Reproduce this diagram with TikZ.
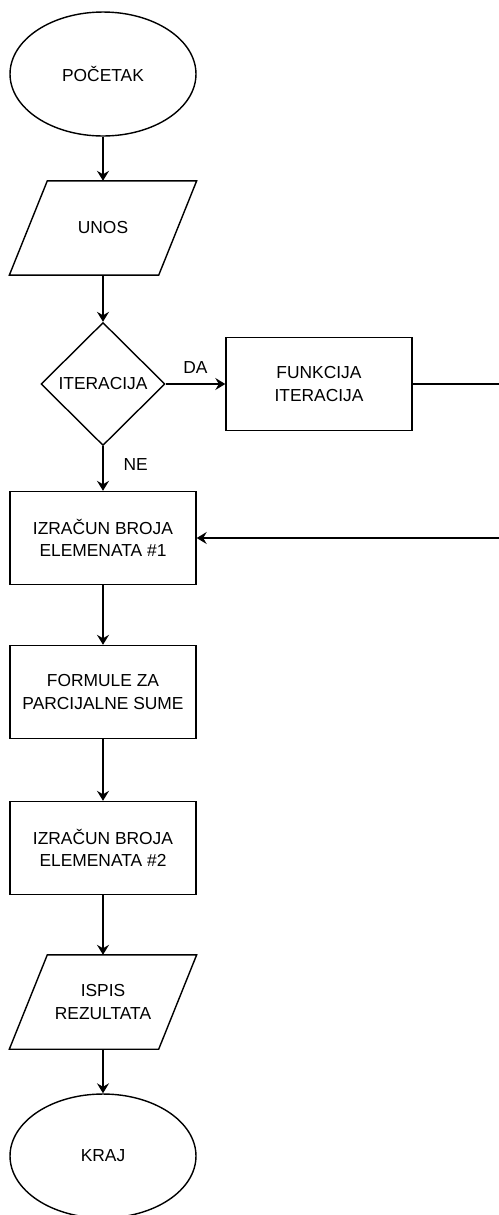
\documentclass[tikz,border=0pt]{standalone}
\usepackage{fontspec}
\setmainfont{Liberation Sans}
\usepackage{tikz}
\usetikzlibrary{shapes.geometric}
\usetikzlibrary{arrows.meta}

\tikzset{
    flow/.style={draw,thick,align=center,inner sep=0pt,
        font=\fontsize{9.9}{12.8}\selectfont},
    terminal/.style={flow,ellipse,minimum width=3.72cm,minimum height=2.48cm},
    io/.style={flow,draw=none,rectangle,minimum width=3.72cm,minimum height=1.86cm,
        append after command={
            \pgfextra{\draw[thick]
                (\tikzlastnode.south west)--([xshift=0.76cm]\tikzlastnode.north west)
                --(\tikzlastnode.north east)--([xshift=-0.76cm]\tikzlastnode.south east)
                --cycle;}}},
    process/.style={flow,rectangle,minimum width=3.72cm,minimum height=1.86cm},
    decision/.style={flow,diamond,minimum width=2.48cm,minimum height=2.46cm},
    answer/.style={font=\fontsize{9.9}{12.8}\selectfont},
    link/.style={-{Stealth[length=0.2cm,width=0.24cm,inset=0.07cm]},thick},
}

\begin{document}
\begin{tikzpicture}[x=0.02cm,y=-0.02cm]
                \useasboundingbox (0,0) rectangle (499,1215);

                \node[terminal] (start) at (103,74) {POČETAK};
                \node[io] (unos) at (103,228) {UNOS};
                \node[decision] (iter) at (103,384) {ITERACIJA};
                \node[process] (funk) at (319,384) {FUNKCIJA\\ITERACIJA};
                \node[process] (izr1) at (103,538) {IZRAČUN BROJA\\ELEMENATA \#1};
                \node[process] (formule) at (103,692) {FORMULE ZA\\PARCIJALNE SUME};
                \node[process] (izr2) at (103,848) {IZRAČUN BROJA\\ELEMENATA \#2};
                \node[io] (ispis) at (103,1002) {ISPIS\\REZULTATA};
                \node[terminal] (kraj) at (103,1156) {KRAJ};

                \draw[link] (start)--(unos);
                \draw[link] (unos)--(iter);
                \draw[link] (iter)--node[answer,above=2pt]{DA}(funk);
                \draw[link] (iter.south)--(izr1.north)
                    node[answer,pos=0.4,right=8pt]{NE};
                \draw[link] (funk.east)--(506,384)|-(izr1.east);
                \draw[link] (izr1)--(formule);
                \draw[link] (formule)--(izr2);
                \draw[link] (izr2)--(ispis);
                \draw[link] (ispis)--(kraj);
            \end{tikzpicture}
\end{document}
